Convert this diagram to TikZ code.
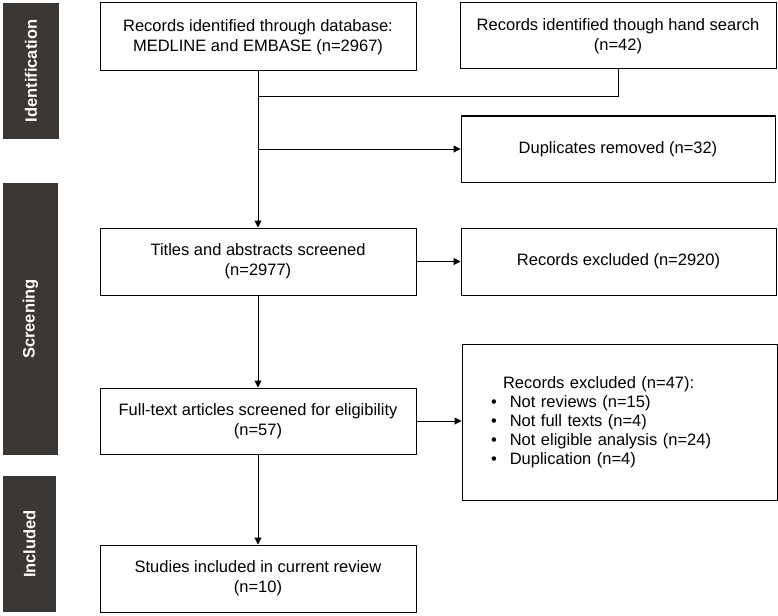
\documentclass[tikz,border=0pt]{standalone}
\usepackage{fontspec}
\setmainfont{Liberation Sans}
\usetikzlibrary{arrows.meta}

\definecolor{bargray}{HTML}{3A3735}

\begin{document}
\begin{tikzpicture}[x=1pt,y=-1pt]
            \tikzstyle{box}=[draw, line width=1pt, align=center, inner sep=0pt, font=\fontsize{16.5}{20}\selectfont]
            \tikzstyle{phase}=[fill=bargray, text=white, rotate=90, inner sep=0pt, font=\fontsize{16.5}{20}\selectfont\bfseries]
            \tikzstyle{arr}=[line width=1pt, -{Triangle[length=7pt,width=7pt]}]

            \useasboundingbox (0,0) rectangle (778,615);

            % phase bars
            \node[phase, minimum width=136, minimum height=56] (ident)  at (31,71)    {Identification};
            \node[phase, minimum width=272, minimum height=55] (screen) at (30.5,319) {Screening};
            \node[phase, minimum width=136, minimum height=53] (incl)   at (29.5,544) {Included};

            % boxes
            \node[box, minimum width=316, minimum height=68] (db)   at (258,37)  {Records identified through database:\\ MEDLINE and EMBASE (n=2967)};
            \node[box, minimum width=316, minimum height=66] (hand) at (618,36)  {Records identified though hand search\\ (n=42)};
            \node[box, minimum width=314, minimum height=66] (dup)  at (618,149) {Duplicates removed (n=32)};

            \node[box, minimum width=316, minimum height=67] (titles) at (258,261.5)   {Titles and abstracts screened\\ (n=2977)};
            \node[box, minimum width=315, minimum height=67] (excl1)  at (618.5,261.5) {Records excluded (n=2920)};

            \node[box, minimum width=316, minimum height=66] (full) at (258,421) {Full-text articles screened for eligibility\\ (n=57)};
            \node[box, minimum height=156, inner xsep=29pt, text width=257pt, align=left,
                  font=\fontsize{16.5}{19}\selectfont] (excl2) at (619.5,422)
                {\hspace*{12pt}Records excluded (n=47):\\
                 \textbullet\hspace{13pt}Not reviews (n=15)\\
                 \textbullet\hspace{13pt}Not full texts (n=4)\\
                 \textbullet\hspace{13pt}Not eligible analysis (n=24)\\
                 \textbullet\hspace{13pt}Duplication (n=4)};

            \node[box, minimum width=316, minimum height=67] (studies) at (258,578.5) {Studies included in current review\\ (n=10)};

            % connectors
            \coordinate (merge) at (db.south |- 0,97);
            \coordinate (split) at (db.south |- dup.west);
            \draw[line width=1pt] (hand.south) |- (merge);
            \draw[arr] (db.south) -- (titles.north);
            \draw[arr] (split) -- (dup.west);
            \draw[arr] (titles.east) -- (titles.east -| excl1.west);
            \draw[arr] (titles.south) -- (full.north);
            \draw[arr] (full.east) -- (full.east -| excl2.west);
            \draw[arr] (full.south) -- (studies.north);
        \end{tikzpicture}
\end{document}
